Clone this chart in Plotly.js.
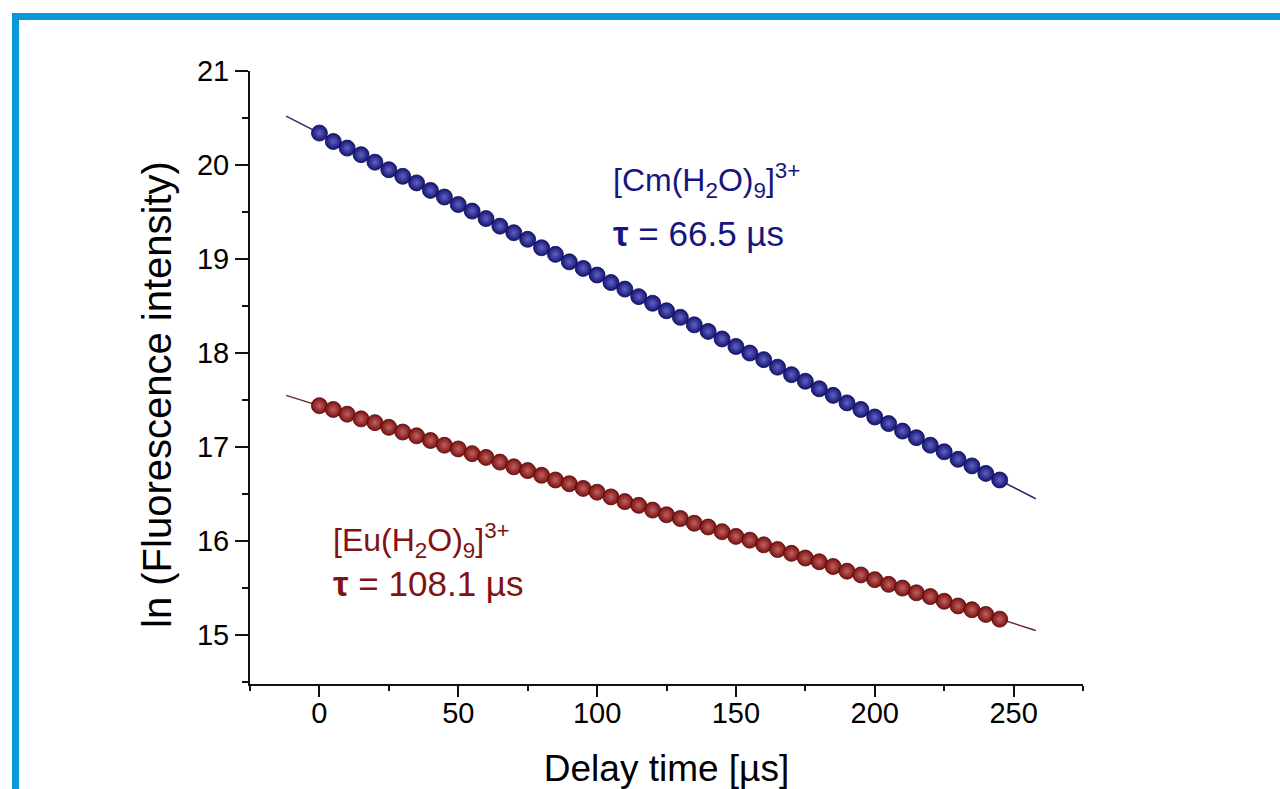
<!DOCTYPE html>
<html>
<head>
<meta charset="utf-8">
<script src="https://cdn.plot.ly/plotly-3.0.1.min.js"></script>
<style>
html, body { margin: 0; padding: 0; background: #ffffff; }
#chart { width: 1280px; height: 789px; }
</style>
</head>
<body>
<div id="chart"></div>
<script>
// Delay times [µs]
const delayTimes = [0,5,10,15,20,25,30,35,40,45,50,55,60,65,70,75,80,85,90,95,
  100,105,110,115,120,125,130,135,140,145,150,155,160,165,170,175,180,185,190,195,
  200,205,210,215,220,225,230,235,240,245];

// ln(fluorescence intensity) – [Cm(H2O)9]3+
const cmValues = [20.34,20.25,20.18,20.11,20.03,19.95,19.88,19.81,19.73,19.66,
  19.58,19.51,19.43,19.35,19.28,19.21,19.12,19.05,18.97,18.90,
  18.83,18.75,18.68,18.60,18.53,18.45,18.38,18.30,18.23,18.15,
  18.07,18.00,17.93,17.85,17.77,17.70,17.62,17.55,17.47,17.40,
  17.32,17.25,17.17,17.10,17.02,16.95,16.87,16.80,16.72,16.65];

// ln(fluorescence intensity) – [Eu(H2O)9]3+
const euValues = [17.44,17.40,17.35,17.30,17.26,17.21,17.16,17.12,17.07,17.02,
  16.98,16.93,16.89,16.84,16.79,16.75,16.70,16.65,16.61,16.56,
  16.52,16.47,16.42,16.38,16.33,16.28,16.24,16.19,16.15,16.10,
  16.05,16.01,15.96,15.91,15.87,15.82,15.78,15.73,15.68,15.64,
  15.59,15.54,15.50,15.45,15.41,15.36,15.31,15.27,15.22,15.17];

// Linear fits
const fitX = [-12, 258];
const cmFit = [20.52, 16.45];
const euFit = [17.55, 15.05];

// Tick labels
const xTicks = [0, 50, 100, 150, 200, 250];
const yTicks = [15, 16, 17, 18, 19, 20, 21];

const cmColor = '#161680';
const euColor = '#821212';
const FONT = 'Liberation Sans, Arial, Helvetica, sans-serif';

const traces = [
  { x: fitX, y: cmFit, mode: 'lines', line: { color: '#2a2a66', width: 1.5 }, hoverinfo: 'skip' },
  { x: fitX, y: euFit, mode: 'lines', line: { color: '#662a2a', width: 1.5 }, hoverinfo: 'skip' },
  { x: delayTimes, y: cmValues, mode: 'markers',
    marker: { symbol: 'circle', size: 16, color: '#141478',
      gradient: { type: 'radial', color: '#6262c0' },
      line: { color: '#0c0c50', width: 0.8 } } },
  { x: delayTimes, y: euValues, mode: 'markers',
    marker: { symbol: 'circle', size: 16, color: '#7c1010',
      gradient: { type: 'radial', color: '#c06262' },
      line: { color: '#500a0a', width: 0.8 } } }
];

// plot area in px: x 250..1083, y 71..684
const L = 250, R = 1083, T = 71, B = 684;
const px = v => (v - L) / (R - L);
const py = v => (B - v) / (B - T);

const layout = {
  width: 1280, height: 789,
  margin: { l: L, r: 1280 - R, t: T, b: 789 - B },
  paper_bgcolor: '#ffffff', plot_bgcolor: '#ffffff',
  showlegend: false,
  font: { family: FONT, color: '#000000' },
  xaxis: {
    range: [-25, 275],
    tickvals: xTicks, ticktext: xTicks.map(String),
    ticks: 'outside', ticklen: 11, tickwidth: 2, tickcolor: '#111',
    minor: { dtick: 25, tick0: 0, ticks: 'outside', ticklen: 5, tickwidth: 2, tickcolor: '#111', showgrid: false },
    showline: true, linecolor: '#111', linewidth: 2,
    showgrid: false, zeroline: false,
    ticklabelstandoff: -9,
    tickfont: { family: FONT, size: 29, color: '#000' },
    title: { text: 'Delay time [µs]', font: { family: FONT, size: 37, color: '#000' }, standoff: 30 },
    automargin: false
  },
  yaxis: {
    range: [14.48, 21],
    tickvals: yTicks, ticktext: yTicks.map(String),
    ticks: 'outside', ticklen: 13, tickwidth: 2, tickcolor: '#111',
    minor: { dtick: 0.5, tick0: 15, ticks: 'outside', ticklen: 6, tickwidth: 2, tickcolor: '#111', showgrid: false },
    showline: true, linecolor: '#111', linewidth: 2,
    showgrid: false, zeroline: false,
    tickfont: { family: FONT, size: 29, color: '#000' },
    automargin: false
  },
  shapes: [
    { type: 'rect', xref: 'paper', yref: 'paper',
      x0: px(15.5), x1: px(1320), y0: py(830), y1: py(16.5),
      line: { color: '#0a98d6', width: 7 }, fillcolor: 'rgba(0,0,0,0)', layer: 'above' }
  ],
  annotations: [
    { x: px(157), y: py(395), xref: 'paper', yref: 'paper', xanchor: 'center', yanchor: 'middle',
      showarrow: false, textangle: -90,
      text: 'ln (Fluorescence intensity)', font: { family: FONT, size: 40, color: '#000' } },
    { x: 105, y: 19.84, xref: 'x', yref: 'y', xanchor: 'left', yanchor: 'middle', showarrow: false,
      text: '[Cm(H<sub>2</sub>O)<sub>9</sub>]<sup>3+</sup>', font: { family: FONT, size: 32, color: cmColor } },
    { x: 105, y: 19.27, xref: 'x', yref: 'y', xanchor: 'left', yanchor: 'middle', showarrow: false,
      text: '<b>τ</b> = 66.5 µs', font: { family: FONT, size: 35, color: cmColor } },
    { x: 4.3, y: 16.01, xref: 'x', yref: 'y', xanchor: 'left', yanchor: 'middle', showarrow: false,
      text: '[Eu(H<sub>2</sub>O)<sub>9</sub>]<sup>3+</sup>', font: { family: FONT, size: 32, color: euColor } },
    { x: 4.3, y: 15.55, xref: 'x', yref: 'y', xanchor: 'left', yanchor: 'middle', showarrow: false,
      text: '<b>τ</b> = 108.1 µs', font: { family: FONT, size: 35, color: euColor } }
  ]
};

Plotly.newPlot('chart', traces, layout, { displayModeBar: false, staticPlot: true });
</script>
</body>
</html>
